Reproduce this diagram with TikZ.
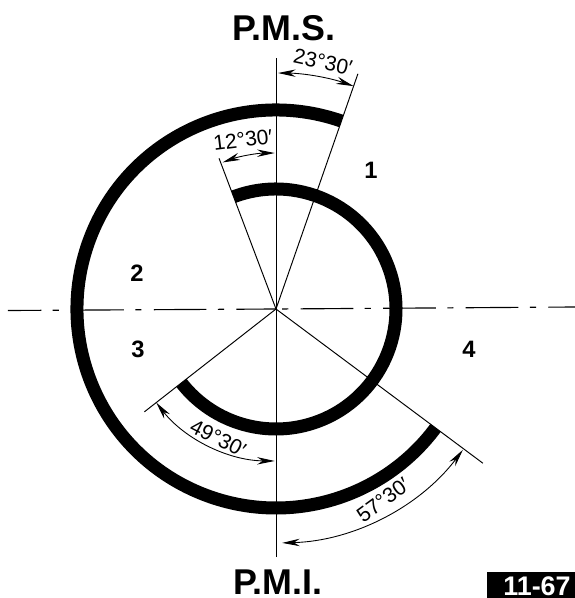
\documentclass[tikz,border=0pt]{standalone}
\usepackage{fontspec}
\setmainfont{Liberation Sans}
\usetikzlibrary{arrows.meta}

\begin{document}
\begin{tikzpicture}[scale=0.02,
		titlelabel/.style={font=\bfseries\fontsize{20.4}{20.4}\selectfont},
		sectorlabel/.style={font=\bfseries\fontsize{13.5}{13.5}\selectfont},
		anglelabel/.style={font=\fontsize{12}{12}\selectfont},
		valveband/.style={line width=7.4pt},
		valveline/.style={line width=0.55pt},
		anglearrow/.style={line width=0.5pt,{Stealth[length=10pt,width=4.2pt]}-{Stealth[length=10pt,width=4.2pt]}},
		centerline/.style={line width=0.65pt}]
	\useasboundingbox (-276,-289) rectangle (299,309);
	\coordinate (O) at (0,0);

	% tengelyek
	\coordinate (pmsend) at (0,251);
	\coordinate (pmiend) at (0,-248);
	\coordinate (westend) at (-268,-1.5);
	\coordinate (eastend) at (299,2);
	\draw[valveline] (pmiend) -- (pmsend);
	\draw[centerline,dash pattern=on 30pt off 6.5pt on 3.5pt off 7pt,dash phase=11pt] (westend) -- (O);
	\draw[centerline,dash pattern=on 30pt off 6.5pt on 3.5pt off 7pt,dash phase=33pt] (O) -- (eastend);

	% sugarak
	\coordinate (openend) at (70.8:249);
	\coordinate (closeend) at (110.7:161);
	\coordinate (lowerend) at (218:167);
	\coordinate (exhaustend) at (-36.7:258);
	\draw[valveline] (O) -- (openend);
	\draw[valveline] (O) -- (closeend);
	\draw[valveline] (O) -- (lowerend);
	\draw[valveline] (O) -- (exhaustend);

	% vastag ivek
	\draw[valveband] (70.8:199) arc (70.8:323.3:199);
	\draw[valveband] (110.7:120) arc (110.7:-142:120);

	% szogek
	\draw[anglearrow] (89.5:236) arc (89.5:70.8:236);
	\draw[anglearrow] (110:156) arc (110:90.5:156);
	\draw[anglearrow] (218:152) arc (218:269.5:152);
	\draw[anglearrow] (-37:234) arc (-37:-88.5:234);

	% feliratok
	\node[anglelabel,rotate=-12] (angleopen) at (47,247) {23°30′};
	\node[anglelabel,rotate=7] (angleclose) at (-33,169) {12°30′};
	\node[anglelabel,rotate=-27] (anglelower) at (-58,-129) {49°30′};
	\node[anglelabel,rotate=36] (angleexhaust) at (107,-191) {57°30′};

	\node[titlelabel] (pms) at (8,281) {P.M.S.};
	\node[titlelabel] (pmi) at (2,-273) {P.M.I.};

	\node[sectorlabel] (sector1) at (95,139) {1};
	\node[sectorlabel] (sector2) at (-139,36) {2};
	\node[sectorlabel] (sector3) at (-138,-40) {3};
	\node[sectorlabel] (sector4) at (193,-40) {4};

	% abraszam
	\fill (211,-263) rectangle (299,-289);
	\node[text=white,font=\bfseries\fontsize{15.3}{15.3}\selectfont,inner sep=0pt] (figno) at (261,-277) {11-67};
\end{tikzpicture}
\end{document}
